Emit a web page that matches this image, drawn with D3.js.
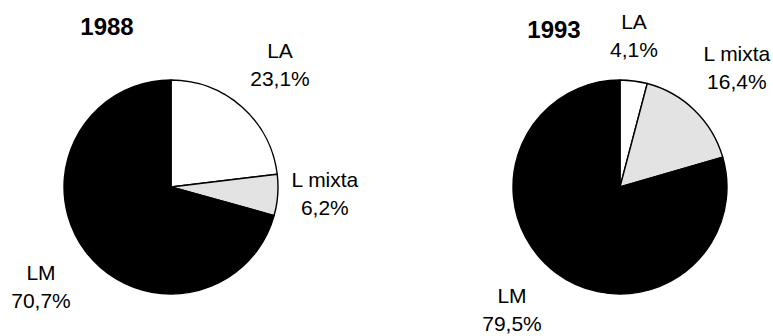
<!DOCTYPE html>
<html>
<head>
<meta charset="utf-8">
<script src="https://cdn.jsdelivr.net/npm/d3@7"></script>
<style>
  html, body { margin: 0; padding: 0; background: #fff; }
  svg text { font-family: "Liberation Sans", Arial, sans-serif; fill: #000; }
</style>
</head>
<body>
<svg id="chart" width="773" height="336"></svg>
<script>
// Labour-regime shares, two survey years
const categories = ["LA", "L mixta", "LM"];
const years = ["1988", "1993"];
const values1988 = [23.1, 6.2, 70.7];
const values1993 = [4.1, 16.4, 79.5];
const sliceColors = ["#ffffff", "#e3e3e3", "#000000"];

const svg = d3.select("#chart");
const radius = 107;
const lineHeight = 28;    // two-line labels: name / percent

// Layout: pie centres, title anchors and label-block centres (relative to pie centre)
const panels = [
  { year: years[0], values: values1988, cx: 171, cy: 187, titleX: 107, titleY: 35,
    labelAt: [[109, -123], [154, 6], [-130, 99]] },
  { year: years[1], values: values1993, cx: 620, cy: 187, titleX: 554, titleY: 38,
    labelAt: [[14, -152], [117, -120], [-108, 122]] }
];

const pie = d3.pie().sort(null).value(d => d.value);
const arc = d3.arc().innerRadius(0).outerRadius(radius);
const fmt = v => d3.format(".1f")(v).replace(".", ",") + "%";

panels.forEach(p => {
  const data = categories.map((c, i) => ({ name: c, value: p.values[i], color: sliceColors[i] }));
  const g = svg.append("g").attr("transform", `translate(${p.cx},${p.cy})`);

  g.selectAll("path.slice")
    .data(pie(data))
    .join("path")
    .attr("class", "slice")
    .attr("d", arc)
    .attr("fill", d => d.data.color)
    .attr("stroke", "#000")
    .attr("stroke-width", 1.4)
    .attr("stroke-linejoin", "round");

  // data labels: category name over formatted percentage
  pie(data).forEach((d, i) => {
    const lbl = g.append("g");
    const t = lbl.append("text").attr("text-anchor", "middle").style("font-size", "21px");
    t.append("tspan").attr("x", 0).attr("y", 0).text(d.data.name);
    t.append("tspan").attr("x", 0).attr("y", lineHeight).text(fmt(d.data.value));
    const bb = t.node().getBBox();
    const [bx, by] = p.labelAt[i];
    lbl.attr("transform",
      `translate(${bx - (bb.x + bb.width / 2)},${by - (bb.y + bb.height / 2)})`);
  });

  svg.append("text")
    .attr("x", p.titleX)
    .attr("y", p.titleY)
    .attr("text-anchor", "middle")
    .style("font-size", "24px")
    .style("font-weight", "bold")
    .text(p.year);
});
</script>
</body>
</html>
